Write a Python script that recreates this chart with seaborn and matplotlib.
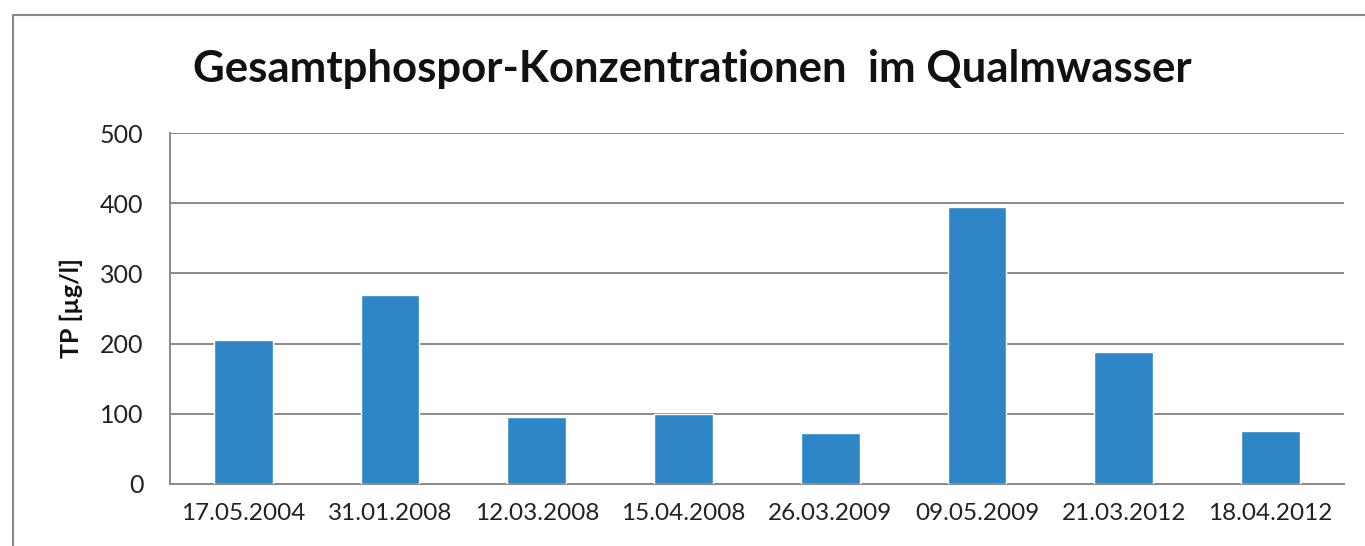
import matplotlib
matplotlib.use("Agg")
import matplotlib.pyplot as plt
import seaborn as sns
import pandas as pd
from matplotlib.patches import Rectangle

dates = ["17.05.2004", "31.01.2008", "12.03.2008", "15.04.2008",
         "26.03.2009", "09.05.2009", "21.03.2012", "18.04.2012"]
tp_values = [205, 269, 95, 99, 72, 394, 188, 75]
y_ticks = [0, 100, 200, 300, 400, 500]

sns.set_theme(style="white")
plt.rcParams['font.family'] = ['Lato', 'DejaVu Sans']

df = pd.DataFrame({"Datum": dates, "TP": tp_values})

fig = plt.figure(figsize=(13.65, 5.46), dpi=100)
ax = fig.add_axes([0.1245, 0.1136, 0.8601, 0.6428])

sns.barplot(data=df, x="Datum", y="TP", color="#2E86C6", width=0.4,
            saturation=1, ax=ax, zorder=3)

ax.set_ylim(0, 500)
ax.set_yticks(y_ticks)
ax.yaxis.grid(True, color="#8a8a8a", linewidth=1.4, zorder=0)
ax.set_axisbelow(True)
for s in ["right", "top"]:
    ax.spines[s].set_visible(False)
for s in ["bottom", "left"]:
    ax.spines[s].set_color("#8a8a8a")
    ax.spines[s].set_linewidth(1.4)
ax.tick_params(axis="both", length=0, colors="#222222")
ax.tick_params(axis="y", pad=19, labelsize=18)
ax.tick_params(axis="x", pad=14, labelsize=17.5)
ax.set_xlabel("")
ax.set_ylabel("TP [µg/l]", fontsize=18, fontweight="bold", color="#111111")
ax.yaxis.set_label_coords(-0.074, 0.5)

fig.text(692 / 1365, 1 - 82 / 546, "Gesamtphospor-Konzentrationen  im Qualmwasser",
         ha="center", va="baseline", fontsize=31.5, fontweight="bold", color="#111111")

fig.patches.append(Rectangle((13 / 1365, -0.1), 1.2, 1 - 15 / 546 + 0.1,
                             transform=fig.transFigure, fill=False,
                             edgecolor="#888888", linewidth=1.5, zorder=10))

fig.savefig("out.png", dpi=100)
